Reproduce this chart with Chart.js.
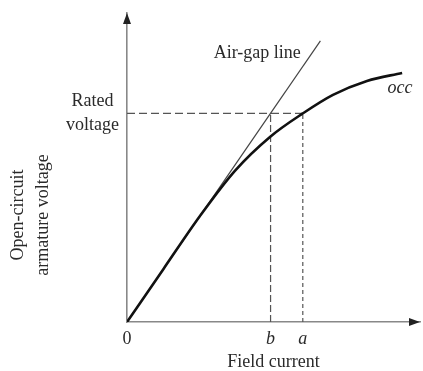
<!doctype html>
<html>
<head>
<meta charset="utf-8">
<script src="https://cdn.jsdelivr.net/npm/chart.js"></script>
<style>
    body { margin: 0; background: #fff; }
</style>
</head>
<body>
<canvas id="occChart" width="423" height="371"></canvas>
<script>
    // open-circuit characteristic (axes run 0..100)
    const occX = [0, 12.4, 24.9, 36.9, 48.8, 60, 70.3, 81.9, 93.9];
    const occY = [0, 17.1, 34.3, 49.0, 59.9, 67.5, 73.5, 78.0, 80.6];

    // air-gap line, straight from the origin
    const airGapX = [0, 66];
    const airGapY = [0, 91];

    const ratedVoltage = 67.5;
    const fieldB = 49;
    const fieldA = 60;

    const xTickValues = [0, fieldB, fieldA];
    const xTickLabels = ['0', 'b', 'a'];
    const yTickLabel = ['Rated', 'voltage'];
    const yTitle = ['Open-circuit', 'armature voltage'];

    const serif = '"Liberation Serif", "DejaVu Serif", serif';
    const textColor = '#2a2a2a';

    function pts(xs, ys) {
        return xs.map((x, i) => ({ x: x, y: ys[i] }));
    }

    function guide(data, dash) {
        return {
            data: data,
            showLine: true,
            borderColor: '#555',
            borderWidth: 1.2,
            borderDash: dash,
            pointRadius: 0,
            fill: false
        };
    }

    // arrow heads, y title and the two curve labels
    const extras = {
        id: 'extras',
        afterDraw(chart) {
            const c = chart.ctx;
            const xs = chart.scales.x;
            const ys = chart.scales.y;
            const ox = xs.left, oy = ys.bottom;
            c.save();
            c.fillStyle = '#222';
            c.beginPath();
            c.moveTo(ox, ys.top);
            c.lineTo(ox - 4, ys.top + 11);
            c.lineTo(ox + 4, ys.top + 11);
            c.closePath();
            c.fill();
            c.beginPath();
            c.moveTo(xs.right, oy);
            c.lineTo(xs.right - 11, oy - 4);
            c.lineTo(xs.right - 11, oy + 4);
            c.closePath();
            c.fill();

            c.fillStyle = textColor;
            c.font = '18px ' + serif;
            c.textBaseline = 'middle';
            c.textAlign = 'center';
            c.translate(18, 215);
            c.rotate(-Math.PI / 2);
            c.fillText(yTitle[0], 0, 0);
            c.fillText(yTitle[1], 0, 25);
            c.restore();

            c.save();
            c.fillStyle = textColor;
            c.textBaseline = 'middle';
            c.font = '18px ' + serif;
            c.textAlign = 'right';
            c.fillText('Air-gap line', xs.getPixelForValue(59.3), ys.getPixelForValue(87));
            c.font = 'italic 18px ' + serif;
            c.textAlign = 'center';
            c.fillText('occ', xs.getPixelForValue(93.2), ys.getPixelForValue(75.7));
            c.restore();
        }
    };

    new Chart(document.getElementById('occChart'), {
        type: 'scatter',
        data: {
            datasets: [
                {
                    data: pts(occX, occY),
                    showLine: true,
                    borderColor: '#111',
                    borderWidth: 2.6,
                    cubicInterpolationMode: 'monotone',
                    pointRadius: 0,
                    fill: false
                },
                {
                    data: pts(airGapX, airGapY),
                    showLine: true,
                    borderColor: '#444',
                    borderWidth: 1.2,
                    pointRadius: 0,
                    fill: false
                },
                guide([{ x: 0, y: ratedVoltage }, { x: fieldA, y: ratedVoltage }], [8, 4]),
                guide([{ x: fieldB, y: 0 }, { x: fieldB, y: ratedVoltage }], [7, 3]),
                guide([{ x: fieldA, y: 0 }, { x: fieldA, y: ratedVoltage }], [4, 3])
            ]
        },
        options: {
            responsive: false,
            animation: false,
            layout: { padding: { top: 13, right: 3, bottom: 0, left: 0 } },
            plugins: {
                legend: { display: false },
                tooltip: { enabled: false }
            },
            scales: {
                x: {
                    type: 'linear',
                    min: 0,
                    max: 100,
                    grid: { display: false, drawTicks: false },
                    border: { display: true, color: '#888', width: 1.6 },
                    afterBuildTicks: (scale) => {
                        scale.ticks = xTickValues.map(v => ({ value: v }));
                    },
                    afterFit: (scale) => {
                        scale.height = 49;
                        scale.paddingLeft = 0;
                        scale.paddingRight = 0;
                    },
                    ticks: {
                        padding: 6,
                        color: textColor,
                        autoSkip: false,
                        maxRotation: 0,
                        font: (ctx) => ({
                            family: serif,
                            size: 18,
                            style: ctx.tick && ctx.tick.value === 0 ? 'normal' : 'italic'
                        }),
                        callback: (value) => xTickLabels[xTickValues.indexOf(value)]
                    },
                    title: {
                        display: true,
                        text: 'Field current',
                        color: textColor,
                        padding: { top: 0, bottom: 0 },
                        font: { family: serif, size: 18, lineHeight: 1 }
                    }
                },
                y: {
                    type: 'linear',
                    min: 0,
                    max: 100,
                    grid: { display: false, drawTicks: false },
                    border: { display: true, color: '#888', width: 1.6 },
                    afterBuildTicks: (scale) => {
                        scale.ticks = [{ value: ratedVoltage }];
                    },
                    afterFit: (scale) => {
                        scale.width = 127;
                        scale.paddingTop = 0;
                        scale.paddingBottom = 0;
                    },
                    ticks: {
                        padding: 8,
                        crossAlign: 'center',
                        color: textColor,
                        font: { family: serif, size: 18, lineHeight: 1.33 },
                        callback: () => yTickLabel
                    }
                }
            }
        },
        plugins: [extras]
    });
</script>
</body>
</html>
